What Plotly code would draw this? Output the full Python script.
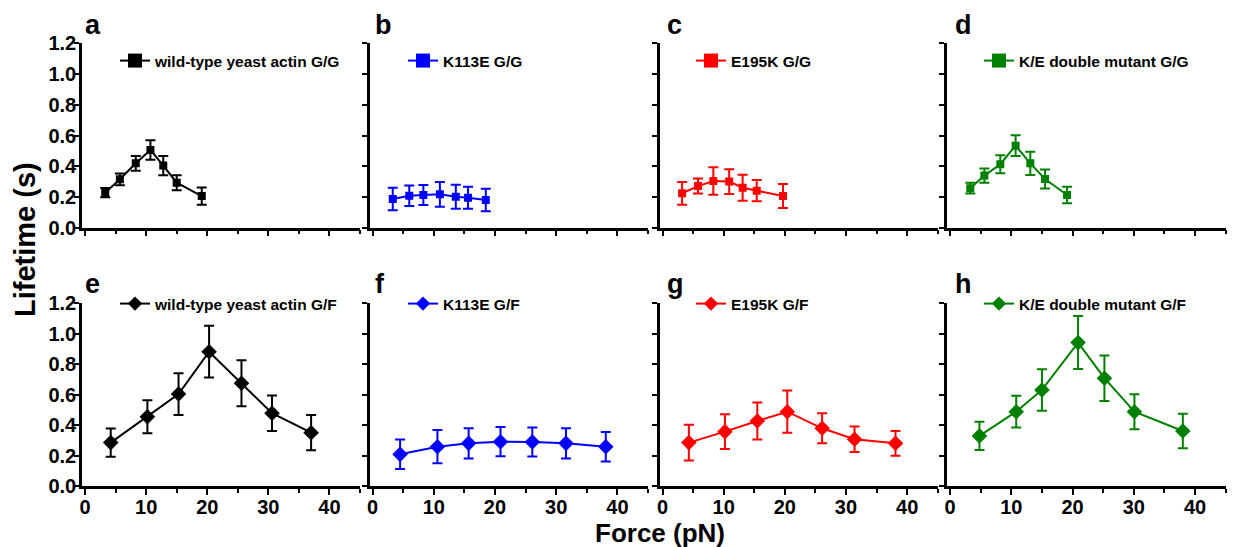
import plotly.graph_objects as go

W, H = 1235, 547

# ---------------- data ----------------
panel_letters = ["a", "b", "c", "d", "e", "f", "g", "h"]
series_names = ["wild-type yeast actin G/G", "K113E G/G", "E195K G/G", "K/E double mutant G/G",
                "wild-type yeast actin G/F", "K113E G/F", "E195K G/F", "K/E double mutant G/F"]
series_colors = ["#000000", "#0000FF", "#FF0000", "#008000",
                 "#000000", "#0000FF", "#FF0000", "#008000"]

forces_a = [3.3, 5.7, 8.3, 10.7, 12.8, 15.0, 19.1]
life_a = [0.228, 0.315, 0.419, 0.506, 0.404, 0.293, 0.206]
err_a = [0.030, 0.038, 0.048, 0.063, 0.063, 0.049, 0.056]

forces_b = [3.3, 6.0, 8.3, 11.0, 13.6, 15.6, 18.5]
life_b = [0.187, 0.208, 0.213, 0.217, 0.202, 0.195, 0.180]
err_b = [0.073, 0.067, 0.065, 0.081, 0.078, 0.072, 0.073]

forces_c = [3.2, 5.8, 8.3, 10.9, 13.1, 15.4, 19.7]
life_c = [0.224, 0.271, 0.304, 0.300, 0.260, 0.241, 0.206]
err_c = [0.074, 0.049, 0.090, 0.081, 0.084, 0.069, 0.078]

forces_d = [3.3, 5.6, 8.2, 10.7, 13.1, 15.5, 19.1]
life_d = [0.257, 0.339, 0.413, 0.534, 0.419, 0.317, 0.213]
err_d = [0.035, 0.046, 0.058, 0.068, 0.076, 0.062, 0.054]

forces_e = [4.2, 10.2, 15.3, 20.3, 25.6, 30.6, 37.0]
life_e = [0.285, 0.455, 0.604, 0.882, 0.675, 0.478, 0.350]
err_e = [0.093, 0.109, 0.137, 0.170, 0.151, 0.116, 0.116]

forces_f = [4.5, 10.6, 15.7, 20.9, 26.1, 31.6, 38.1]
life_f = [0.208, 0.258, 0.280, 0.291, 0.289, 0.280, 0.258]
err_f = [0.097, 0.109, 0.100, 0.096, 0.095, 0.100, 0.097]

forces_g = [4.3, 10.2, 15.5, 20.4, 26.1, 31.4, 38.1]
life_g = [0.285, 0.357, 0.427, 0.488, 0.379, 0.307, 0.280]
err_g = [0.117, 0.114, 0.122, 0.139, 0.099, 0.083, 0.081]

forces_h = [4.8, 10.8, 15.0, 20.9, 25.2, 30.1, 38.0]
life_h = [0.329, 0.488, 0.631, 0.942, 0.708, 0.488, 0.361]
err_h = [0.093, 0.104, 0.136, 0.174, 0.149, 0.115, 0.113]

x_tick_vals = [0, 10, 20, 30, 40]
x_tick_text = ["0", "10", "20", "30", "40"]
y_tick_vals = [0.0, 0.2, 0.4, 0.6, 0.8, 1.0, 1.2]
y_tick_text = ["0.0", "0.2", "0.4", "0.6", "0.8", "1.0", "1.2"]

forces = [forces_a, forces_b, forces_c, forces_d, forces_e, forces_f, forces_g, forces_h]
lifes = [life_a, life_b, life_c, life_d, life_e, life_f, life_g, life_h]
errs = [err_a, err_b, err_c, err_d, err_e, err_f, err_g, err_h]

# ---------------- layout geometry (pixels) ----------------
col_px = [(82, 360), (369.5, 648), (659.5, 937.7), (947, 1225.7)]
row_px = [(43.3, 227.7), (303.3, 486)]
letter_x = [83, 373, 665, 953]
letter_y = [25, 284]
legend_x = [115, 403, 691, 979]
legend_y = [61, 304]

FONT = "Arial, Liberation Sans, sans-serif"

fig = go.Figure()
layout = dict(
    width=W, height=H,
    margin=dict(l=0, r=0, t=0, b=0, autoexpand=False),
    paper_bgcolor="white", plot_bgcolor="white",
    font=dict(family=FONT, color="black"),
    annotations=[],
)

for i in range(8):
    r, c = divmod(i, 4)
    n = i + 1
    xa = "x" if n == 1 else f"x{n}"
    ya = "y" if n == 1 else f"y{n}"
    leg = "legend" if n == 1 else f"legend{n}"
    col = series_colors[i]
    symbol = "square" if r == 0 else "diamond"
    msize = 8 if r == 0 else 12
    # data trace
    fig.add_trace(go.Scatter(
        x=forces[i], y=lifes[i], xaxis=xa, yaxis=ya,
        mode="lines+markers",
        line=dict(color=col, width=2),
        marker=dict(symbol=symbol, size=msize, color=col),
        error_y=dict(type="data", array=errs[i], color=col, thickness=2, width=5),
        showlegend=False, name=series_names[i],
    ))
    # legend-only trace (bigger symbol)
    fig.add_trace(go.Scatter(
        x=[None], y=[None], xaxis=xa, yaxis=ya,
        mode="lines+markers",
        line=dict(color=col, width=2),
        marker=dict(symbol=symbol, size=14 if r == 0 else 11, color=col),
        name=series_names[i], legend=leg, showlegend=True,
    ))
    x0, x1 = col_px[c]
    y0, y1 = row_px[r]
    axkey = "xaxis" if n == 1 else f"xaxis{n}"
    aykey = "yaxis" if n == 1 else f"yaxis{n}"
    layout[axkey] = dict(
        domain=[x0 / W, x1 / W], anchor=ya, range=[-0.5, 45], automargin=False,
        showline=True, linecolor="black", linewidth=2.5,
        showgrid=False, zeroline=False,
        ticks="outside", ticklen=6, tickwidth=2, tickcolor="black",
        tickvals=x_tick_vals, ticktext=x_tick_text,
        showticklabels=(r == 1), ticklabelstandoff=-5,
        tickfont=dict(family=FONT, size=20, color="black", weight="bold"),
        minor=dict(tickvals=[5, 15, 25, 35, 45], ticks="outside", ticklen=4,
                   tickwidth=2, tickcolor="black", showgrid=False),
    )
    layout[aykey] = dict(
        domain=[1 - y1 / H, 1 - y0 / H], anchor=xa, range=[0, 1.2], automargin=False,
        showline=True, linecolor="black", linewidth=2.5,
        showgrid=False, zeroline=False,
        ticks="outside", ticklen=5, tickwidth=2, tickcolor="black",
        tickvals=y_tick_vals, ticktext=y_tick_text,
        showticklabels=(c == 0), ticklabelstandoff=-6,
        tickfont=dict(family=FONT, size=20, color="black", weight="bold"),
    )
    layout[leg] = dict(
        x=legend_x[c] / W, y=1 - legend_y[r] / H, xanchor="left", yanchor="middle",
        bgcolor="rgba(0,0,0,0)", borderwidth=0,
        font=dict(family=FONT, size=15.5, color="black", weight="bold"),
        itemwidth=30, tracegroupgap=0,
    )
    layout["annotations"].append(dict(
        text=panel_letters[i], xref="paper", yref="paper",
        x=letter_x[c] / W, y=1 - letter_y[r] / H, xanchor="left", yanchor="middle",
        showarrow=False, font=dict(family=FONT, size=27, color="black", weight="bold"),
    ))

layout["annotations"].append(dict(
    text="Lifetime (s)", xref="paper", yref="paper", x=25 / W, y=1 - 240 / H,
    xanchor="center", yanchor="middle", textangle=-90, showarrow=False,
    font=dict(family=FONT, size=29, color="black", weight="bold"),
))
layout["annotations"].append(dict(
    text="Force (pN)", xref="paper", yref="paper", x=660 / W, y=1 - 533 / H,
    xanchor="center", yanchor="middle", showarrow=False,
    font=dict(family=FONT, size=26, color="black", weight="bold"),
))

fig.update_layout(**layout)
fig.write_html(
    "out.html",
    config={"displayModeBar": False},
    post_script="document.body.style.margin='0';document.body.style.overflow='hidden';",
)
